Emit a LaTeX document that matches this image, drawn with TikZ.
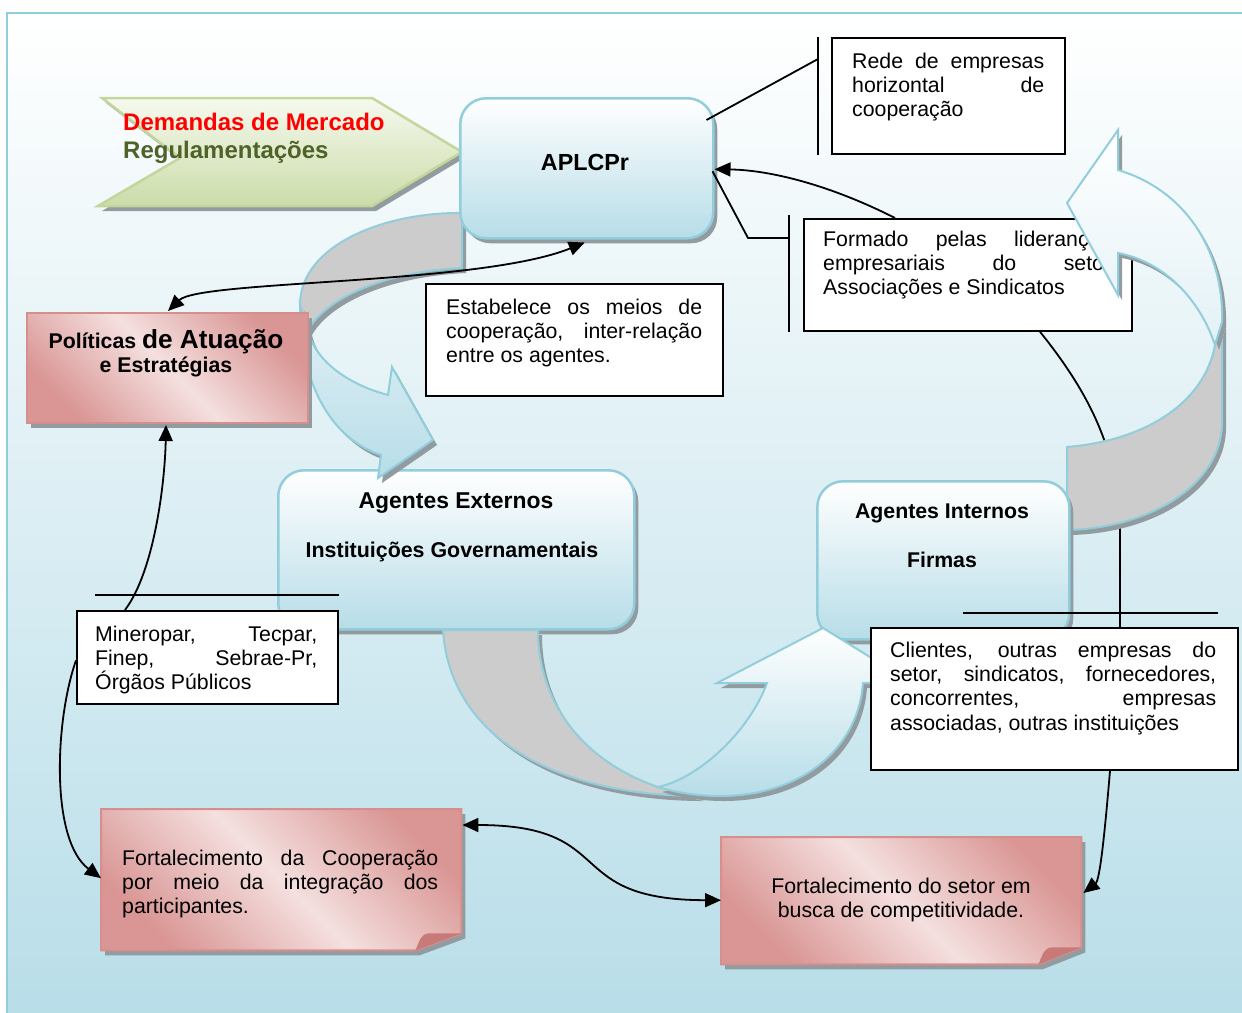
\documentclass[tikz,border=0pt]{standalone}
\usepackage{fontspec}
\setmainfont{Liberation Sans}
\usetikzlibrary{arrows.meta,shadows,calc}

\definecolor{frameblue}{RGB}{146,205,220}
\definecolor{paleblue}{RGB}{183,221,232}
\definecolor{mistblue}{RGB}{226,241,246}
\definecolor{ribbongray}{RGB}{204,204,204}
\definecolor{shadowgray}{RGB}{145,155,160}
\definecolor{chevgreen}{RGB}{203,220,168}
\definecolor{chevlight}{RGB}{246,249,239}
\definecolor{chevedge}{RGB}{195,214,155}
\definecolor{mossgreen}{RGB}{79,98,40}
\definecolor{rosedark}{RGB}{217,150,148}
\definecolor{roselight}{RGB}{244,224,223}
\definecolor{roseedge}{RGB}{214,143,141}
\definecolor{rosefold}{RGB}{200,122,120}

% stacked lines: first baseline is the box baseline
\newcommand\txtleft[1]{\vtop{\halign{##\hfil\cr#1\crcr}}}
\newcommand\txtmid[1]{\vtop{\halign{\hfil##\hfil\cr#1\crcr}}}

\tikzset{
  softshadow/.style={drop shadow={shadow xshift=4pt,shadow yshift=-5pt,fill=shadowgray,opacity=1}},
  agentbox/.style={rectangle,rounded corners=26pt,draw=frameblue,line width=2.5pt,
    top color=white,bottom color=paleblue,softshadow,inner sep=0pt,anchor=north west},
  rosebox/.style={rectangle,draw=roseedge,line width=2pt,top color=rosedark,bottom color=rosedark,
    middle color=roselight,shading angle=-45,softshadow,inner sep=0pt,anchor=north west},
  notebody/.style={draw=roseedge,line width=2pt,top color=rosedark,bottom color=rosedark,
    middle color=roselight,shading angle=-45,softshadow},
  notearea/.style={rectangle,inner sep=0pt,anchor=north west},
  callbox/.style={rectangle,draw=black,line width=1.8pt,fill=white,inner sep=0pt,anchor=north west},
  bodytxt/.style={inner sep=0pt,anchor=base west,font=\fontsize{21.3}{24.4}\selectfont},
  headtxt/.style={inner sep=0pt,anchor=base,font=\bfseries\fontsize{21.3}{24.4}\selectfont},
  ribbonback/.style={fill=ribbongray,draw=frameblue,line width=2pt,line join=round,softshadow},
  ribbonfront/.style={draw=frameblue,line width=2pt,line join=miter,softshadow},
  conn/.style={draw=black,line width=1.8pt},
  bar/.style={draw=black,line width=1.8pt},
}

\begin{document}
\begin{tikzpicture}[x=1pt,y=-1pt,>={Triangle[length=16pt,width=14pt]}]
\useasboundingbox (0,0) rectangle (1242,1012);
\fill[white] (0,0) rectangle (1242,1012);
\path[draw=frameblue,line width=2.5pt,top color=white,bottom color=paleblue] (7,13) rectangle (1262,1032);

% market demands chevron
\path[softshadow,draw=chevedge,line width=2.5pt,line join=miter,top color=chevlight,bottom color=chevgreen]
  (102,98) -- (372,98) -- (462,152) -- (372,206) -- (98,206) -- (180,158) -- cycle;
\node[headtxt,anchor=base west,font=\bfseries\fontsize{24}{28}\selectfont,text=red] (demandas) at (123,130) {Demandas de Mercado};
\node[headtxt,anchor=base west,font=\bfseries\fontsize{24}{28}\selectfont,text=mossgreen] (regul) at (123,158) {Regulamentações};

% callout boxes on the upper right
\node[callbox,minimum width=233pt,minimum height=116pt] (rede) at (831,37) {};
\draw[bar] ([xshift=-13pt]rede.north west) -- ([xshift=-13pt]rede.south west);
\node[bodytxt] (redet) at (852,68) {\txtleft{\hbox to 192pt{Rede de empresas}\cr\hbox to 192pt{horizontal de}\cr cooperação}};

\node[callbox,minimum width=328pt,minimum height=112pt] (formado) at (803,218) {};
\draw[bar] ([xshift=-14pt,yshift=3pt]formado.north west) -- ([xshift=-14pt]formado.south west);
\node[bodytxt] (formadot) at (823,246) {\txtleft{\hbox to 288pt{Formado pelas lideranças}\cr\hbox to 288pt{empresariais do setor}\cr Associações e Sindicatos}};

\node[callbox,minimum width=297pt,minimum height=112pt] (estab) at (425,283) {};
\node[bodytxt] (estabt) at (446,314) {\txtleft{\hbox to 256pt{Estabelece os meios de}\cr\hbox to 256pt{cooperação, inter-relação}\cr entre os agentes.}};

% link from the leaders box down to the clients box (runs under the right ribbon)
\coordinate (clientesin) at (1120,627);
\draw[conn] ($(formado.south west)+(237,0)$) .. controls (1095,400) and (1121,460) .. (1120,540) -- (clientesin);

% external agents
\node[agentbox,minimum width=356pt,minimum height=159pt] (agext) at (277,469) {};
\node[headtxt,font=\bfseries\fontsize{22.9}{26}\selectfont] (agextt) at (456,508) {Agentes Externos};
\node[headtxt,font=\bfseries\fontsize{21.4}{25}\selectfont] (agextt2) at (452,557) {Instituições Governamentais};

% upper-left curved ribbon
\path[ribbonback] (462,213) .. controls (385,212) and (300,245) .. (300,305) -- (308,330)
  .. controls (325,300) and (380,272) .. (462,268) -- cycle;
\path[ribbonfront,top color=mistblue,bottom color=paleblue] (300,305) .. controls (300,390) and (335,440) .. (381,455)
  -- (378,478) -- (433,440) -- (392,367) -- (388,395) .. controls (350,385) and (315,362) .. (308,330) -- cycle;

% APLCPr and policies
\node[agentbox,minimum width=253pt,minimum height=140pt] (aplc) at (459,97) {};
\node[headtxt,font=\bfseries\fontsize{23.3}{27}\selectfont] (aplct) at (585,170) {APLCPr};
\node[rosebox,minimum width=281pt,minimum height=110pt] (politicas) at (26,312) {};
\node[headtxt] (politicast) at (166,348) {\txtmid{Políticas {\fontsize{26.2}{30}\selectfont de Atuação}\cr e Estratégias}};

% right curved ribbon
\path[ribbonback] (1067,447) .. controls (1150,440) and (1205,400) .. (1215,345) -- (1222,322) -- (1222,425)
  .. controls (1220,485) and (1150,528) .. (1067,530) -- cycle;
\node[agentbox,minimum width=252pt,minimum height=158pt] (agint) at (816,480) {};
\node[headtxt] (agintt) at (942,518) {Agentes Internos};
\node[headtxt] (agintt2) at (942,567) {Firmas};
\path[ribbonfront,top color=white,bottom color=mistblue] (1118,170) .. controls (1185,190) and (1224,250) .. (1222,322)
  -- (1215,345) .. controls (1200,300) and (1165,262) .. (1118,253) -- (1118,295) -- (1067,203) -- (1118,130) -- cycle;

% lower curved ribbon
\path[ribbonback] (443,630) .. controls (450,740) and (560,796) .. (700,796) -- (658,787)
  .. controls (580,760) and (538,700) .. (538,630) -- cycle;
\path[ribbonfront,top color=white,bottom color=paleblue] (658,787) .. controls (700,778) and (750,730) .. (767,683)
  -- (717,683) -- (823,628) -- (912,683) -- (863,683) .. controls (858,750) and (800,796) .. (720,796)
  .. controls (695,796) and (675,792) .. (658,787) -- cycle;

% callout boxes on the lower half
\node[callbox,minimum width=367pt,minimum height=142pt] (clientes) at (870,627) {};
\draw[bar] ($(clientes.north west)+(93,-14)$) -- ($(clientes.north east)+(-21,-14)$);
\node[bodytxt] (clientest) at (890,657) {\txtleft{\hbox to 326pt{Clientes, outras empresas do}\cr\hbox to 326pt{setor, sindicatos, fornecedores,}\cr\hbox to 326pt{concorrentes, empresas}\cr associadas, outras instituições}};

\node[callbox,minimum width=261pt,minimum height=93pt] (minero) at (76,610) {};
\draw[bar] ($(minero.north west)+(19,-15)$) -- ($(minero.north east)+(0,-15)$);
\node[bodytxt] (minerot) at (95,641) {\txtleft{\hbox to 222pt{Mineropar, Tecpar,}\cr\hbox to 222pt{Finep, Sebrae-Pr,}\cr Órgãos Públicos}};

% outcome notes with folded corner
\node[notearea,minimum width=360pt,minimum height=141pt] (coop) at (101,809) {};
\path[notebody] (coop.north west) -- (coop.north east) -- ([yshift=17pt]coop.south east)
  -- ([xshift=-46pt]coop.south east) -- (coop.south west) -- cycle;
\fill[rosefold] ([xshift=-46pt]coop.south east) .. controls +(4,-9) and +(-8,1) .. ([xshift=-33pt,yshift=17pt]coop.south east)
  -- ([yshift=17pt]coop.south east) -- cycle;
\node[bodytxt] (coopt) at (122,865) {\txtleft{\hbox to 316pt{Fortalecimento da Cooperação}\cr\hbox to 316pt{por meio da integração dos}\cr participantes.}};

\node[notearea,minimum width=360pt,minimum height=127pt] (setor) at (721,837) {};
\path[notebody] (setor.north west) -- (setor.north east) -- ([yshift=17pt]setor.south east)
  -- ([xshift=-43pt]setor.south east) -- (setor.south west) -- cycle;
\fill[rosefold] ([xshift=-43pt]setor.south east) .. controls +(4,-9) and +(-8,1) .. ([xshift=-30pt,yshift=17pt]setor.south east)
  -- ([yshift=17pt]setor.south east) -- cycle;
\node[headtxt,font=\fontsize{21.3}{24.4}\selectfont] (setort) at (901,893) {\txtmid{Fortalecimento do setor em\cr busca de competitividade.}};

% connectors
\draw[conn] ($(aplc.north east)+(-8,23)$) -- ($(rede.north west)+(-13,22)$);
\draw[conn] ($(aplc.east)+(-2,3)$) -- (748,238) -- ($(formado.north west)+(-14,20)$);
\draw[conn,->] ($(formado.north west)+(92,0)$) .. controls (830,185) and (770,170) .. ($(aplc.east)+(0,1)$);
\draw[conn,<->] ($(politicas.north west)+(142,-1)$) .. controls (200,280) and (480,285) .. ($(aplc.south)+(-2,3)$);
\draw[conn,->] ($(minero.north west)+(49,0)$) .. controls (155,570) and (165,480) .. ($(politicas.south west)+(140,1)$);
\draw[conn,->] ($(minero.west)+(0,3)$) .. controls (55,720) and (50,840) .. ($(coop.west)+(0,-1.5)$);
\draw[conn,->] ($(clientes.south west)+(240,0)$) .. controls (1105,830) and (1100,880) .. ($(setor.north east)+(2,56)$);
\draw[conn,<->] ($(coop.north east)+(1,16)$) .. controls (620,825) and (560,900) .. ($(setor.west)+(0,-0.5)$);
\end{tikzpicture}
\end{document}
